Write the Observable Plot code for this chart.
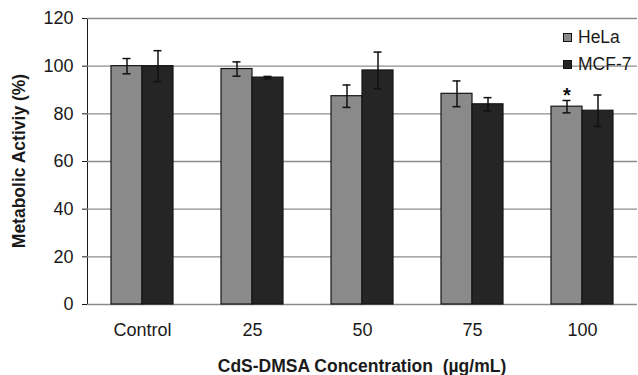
<!DOCTYPE html>
<html>
<head>
<meta charset="utf-8">
<script src="https://cdn.jsdelivr.net/npm/d3@7"></script>
<script src="https://cdn.jsdelivr.net/npm/@observablehq/plot@0.6"></script>
<style>
  html, body { margin: 0; padding: 0; background: #fff; }
  #wrap { position: relative; width: 638px; height: 375px; font-family: "Liberation Sans", Arial, sans-serif; }
  #wrap svg g[aria-label$="tick label"] { font-size: 18px; }
  #legend { position: absolute; left: 563px; top: 24px; font-size: 17.5px; color: #1a1a1a; line-height: 27px; }
  .item { display: flex; align-items: center; white-space: nowrap; }
  .sw { width: 7px; height: 7px; border: 1px solid #111; margin-right: 6px; display: inline-block; }
</style>
</head>
<body>
<div id="wrap"></div>
<script>
const categories = ["Control", "25", "50", "75", "100"];
const series = ["HeLa", "MCF-7"];
const helaMeans = [100, 98.8, 87.4, 88.4, 83.0];
const helaErr = [3.2, 3.0, 4.7, 5.4, 2.6];
const mcfMeans = [100, 95.2, 98.2, 84.0, 81.3];
const mcfErr = [6.5, 0.5, 7.7, 2.8, 6.6];
const helaMarks = ["", "", "", "", "*"];
const yTicks = [0, 20, 40, 60, 80, 100, 120];
const colors = ["#8a8a8a", "#252525"];

const rows = [];
categories.forEach((c, i) => {
  rows.push({cat: c, series: "HeLa", mean: helaMeans[i], err: helaErr[i], mark: helaMarks[i]});
  rows.push({cat: c, series: "MCF-7", mean: mcfMeans[i], err: mcfErr[i], mark: ""});
});

const chart = Plot.plot({
  width: 638,
  height: 375,
  marginLeft: 85,
  marginRight: 0,
  marginTop: 18,
  marginBottom: 71,
  style: {fontFamily: "'Liberation Sans', Arial, sans-serif", fontSize: "18px", color: "#1a1a1a", background: "#fff"},
  fx: {domain: categories, padding: 0, label: null, tickSize: 0, tickPadding: 19},
  x: {domain: series, paddingInner: 0, paddingOuter: 0.754, axis: null},
  y: {domain: [0, 120], ticks: yTicks, label: null, tickSize: 5, tickPadding: 9, line: true},
  color: {domain: series, range: colors},
  marks: [
    Plot.ruleY(yTicks, {stroke: "#8c8c8c", strokeWidth: 1.3}),
    Plot.barY(rows, {fx: "cat", x: "series", y: "mean", fill: "series", stroke: "#151515", strokeWidth: 1.2}),
    Plot.ruleX(rows, {fx: "cat", x: "series", y1: d => d.mean - d.err, y2: d => d.mean + d.err, stroke: "#111", strokeWidth: 1.5}),
    Plot.tickY(rows, {fx: "cat", x: "series", y: d => d.mean - d.err, stroke: "#111", strokeWidth: 1.5, insetLeft: 11.5, insetRight: 11.5}),
    Plot.tickY(rows, {fx: "cat", x: "series", y: d => d.mean + d.err, stroke: "#111", strokeWidth: 1.5, insetLeft: 11.5, insetRight: 11.5}),
    Plot.text(rows.filter(d => d.mark), {fx: "cat", x: "series", y: d => d.mean + d.err, text: "mark", dy: -5, fontSize: 20, fontWeight: "bold", fill: "#111"})
  ]
});

const wrap = document.getElementById("wrap");
wrap.appendChild(chart);

const svg = d3.select(chart);
svg.append("text")
  .attr("x", 362).attr("y", 372)
  .attr("text-anchor", "middle")
  .attr("font-weight", "bold").attr("font-size", 17.5).attr("fill", "#1a1a1a")
  .text("CdS-DMSA Concentration\u00a0 (µg/mL)");
svg.append("text")
  .attr("transform", "translate(25,161) rotate(-90)")
  .attr("text-anchor", "middle")
  .attr("font-weight", "bold").attr("font-size", 17.5).attr("fill", "#1a1a1a")
  .text("Metabolic Activiy (%)");

const legend = document.createElement("div");
legend.id = "legend";
series.forEach((s, i) => {
  const item = document.createElement("div");
  item.className = "item";
  const sw = document.createElement("span");
  sw.className = "sw";
  sw.style.background = colors[i];
  item.appendChild(sw);
  item.appendChild(document.createTextNode(s));
  legend.appendChild(item);
});
wrap.appendChild(legend);
</script>
</body>
</html>
